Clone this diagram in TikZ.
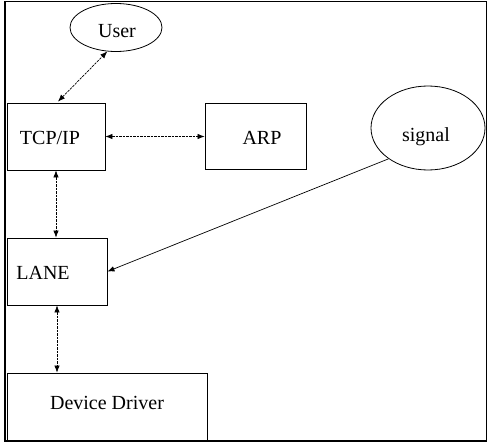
\documentclass[tikz,border=0pt]{standalone}
\usepackage{fontspec}
\setmainfont{Liberation Serif}
\usetikzlibrary{arrows.meta,shapes.geometric,calc}
\begin{document}
\begin{tikzpicture}[x=1pt,y=-1pt,
  blk/.style={draw,line width=0.9pt,rectangle,inner sep=0pt},
  oval/.style={draw,line width=0.8pt,ellipse,inner sep=0pt},
  lbl/.style={font=\fontsize{20}{24}\selectfont,inner sep=0pt},
  tip/.style={{Latex[length=7pt,width=5.5pt]}-{Latex[length=7pt,width=5.5pt]}},
  dashline/.style={line width=0.7pt,dash pattern=on 2.5pt off 1pt},
  frame/.style={line width=1.1pt}]
\useasboundingbox (0,0) rectangle (487,444);
% outer frame
\draw[frame] (5,1.5) rectangle (486.3,441);
% boxes
\node[blk,minimum width=98pt,minimum height=67pt] (tcp) at (56,136.5) {};
\node[blk,minimum width=101pt,minimum height=66pt] (arp) at (255.5,136.5) {};
\node[blk,minimum width=100pt,minimum height=67pt] (lane) at (57,271.5) {};
\node[blk,minimum width=200pt,minimum height=68pt] (dd) at (107,407) {};
% ellipses
\node[oval,minimum width=92pt,minimum height=48pt] (user) at (116,27.5) {};
\node[oval,minimum width=114pt,minimum height=84pt] (signal) at (428,128) {};
% texts
\node[lbl] (tusr) at (117,31) {User};
\node[lbl] (ttcp) at (50,138) {TCP/IP};
\node[lbl] (tarp) at (262,138) {ARP};
\node[lbl] (tsig) at (426,137) {signal};
\node[lbl] (tlane) at (43,273) {LANE};
\node[lbl] (tdd) at (107,403) {Device Driver};
% connectors
\draw[tip,dashline] ($(tcp.north)+(2,-1)$) -- (user.250);
\draw[tip,dashline] (tcp.east) -- (arp.west);
\draw[tip,dashline] (tcp.south) -- (tcp.south |- lane.north);
\draw[tip,dashline] (lane.south) -- (lane.south |- dd.north);
\draw[-{Latex[length=7pt,width=5.5pt]},line width=0.7pt] (signal.218) -- (lane.east);
\end{tikzpicture}
\end{document}
